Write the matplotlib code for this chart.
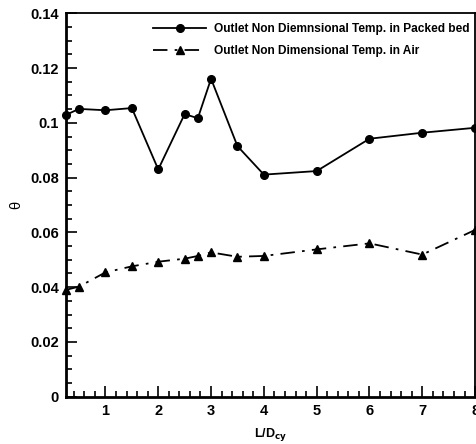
import matplotlib.pyplot as plt
from matplotlib.ticker import MultipleLocator

plt.rcParams["font.family"] = ["Liberation Sans", "DejaVu Sans"]
plt.rcParams["font.weight"] = "bold"

x_vals = [0.25, 0.5, 1, 1.5, 2, 2.5, 2.75, 3, 3.5, 4, 5, 6, 7, 8]
theta_bed = [0.1029, 0.1051, 0.1046, 0.1054, 0.0830, 0.1032, 0.1017,
             0.1161, 0.0915, 0.0811, 0.0824, 0.0942, 0.0964, 0.0982]
theta_air = [0.0390, 0.0402, 0.0454, 0.0476, 0.0493, 0.0504, 0.0514,
             0.0527, 0.0511, 0.0514, 0.0538, 0.0560, 0.0519, 0.0609]
y_ticks = [0, 0.02, 0.04, 0.06, 0.08, 0.1, 0.12, 0.14]
y_tick_labels = ["0", "0.02", "0.04", "0.06", "0.08", "0.1", "0.12", "0.14"]

fig = plt.figure(figsize=(4.77, 4.44), dpi=100)
ax = fig.add_axes([0.138, 0.1065, 0.858, 0.8635])

ax.plot(x_vals, theta_bed, "-", color="black", lw=1.3, marker="o", ms=5.5,
        label="Outlet Non Diemnsional Temp. in Packed bed", clip_on=False)
ax.plot(x_vals, theta_air, color="black", lw=1.3, marker="^", ms=5.5,
        linestyle=(0, (8, 4, 1.5, 4)),
        label="Outlet Non Dimensional Temp. in Air", clip_on=False)

ax.set_xlim(0.25, 8)
ax.set_ylim(0, 0.14)
ax.xaxis.set_major_locator(MultipleLocator(1))
ax.xaxis.set_minor_locator(MultipleLocator(0.2))
ax.yaxis.set_minor_locator(MultipleLocator(0.005))
ax.set_yticks(y_ticks)
ax.set_yticklabels(y_tick_labels)

ax.tick_params(which="both", direction="in", top=False, right=False,
               labelsize=10.5, width=1.2)
ax.tick_params(which="major", length=8, pad=5)
ax.tick_params(which="minor", length=4)
for side in ("left", "bottom"):
    ax.spines[side].set_linewidth(2)
for side in ("top", "right"):
    ax.spines[side].set_linewidth(1.3)

ax.set_xlabel("L/D$_{\\mathbf{cy}}$", fontsize=9, fontweight="bold", labelpad=6)
ax.set_ylabel("θ", fontsize=10.5, fontweight="normal", labelpad=5)

ax.legend(loc="upper right", bbox_to_anchor=(1.0, 0.99), frameon=False,
          fontsize=8.6, handlelength=4.5, borderaxespad=0.1,
          labelspacing=0.85, handletextpad=0.6)

fig.savefig("out.png", dpi=100)
